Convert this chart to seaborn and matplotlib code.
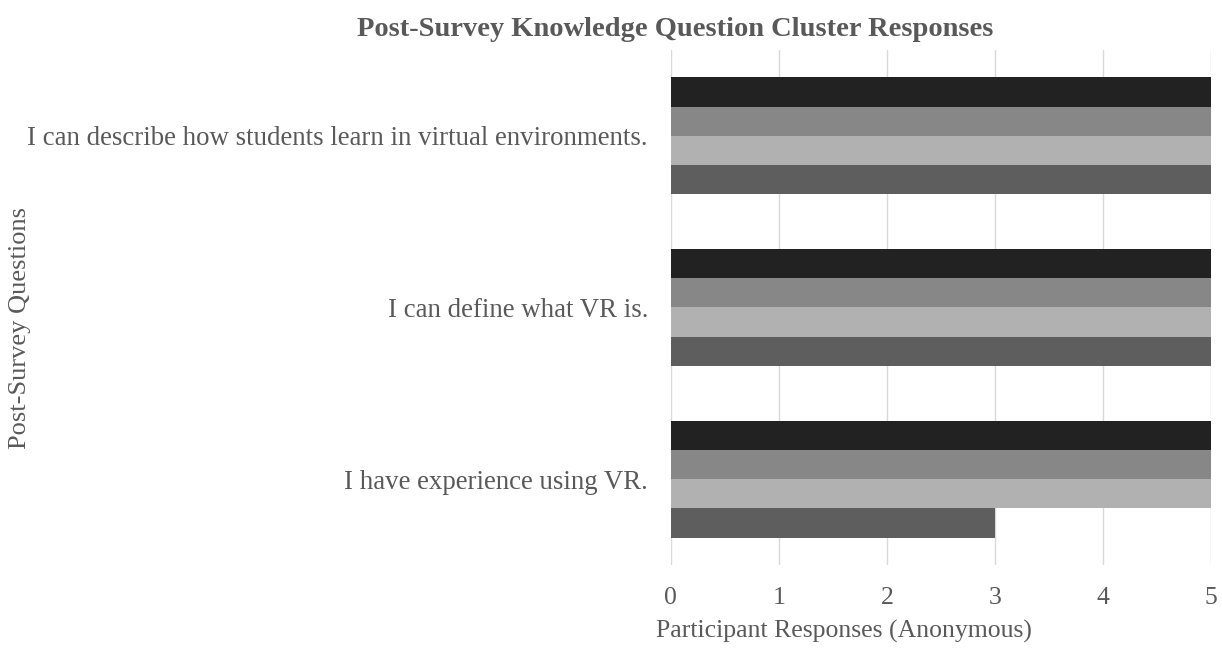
import matplotlib
matplotlib.use("Agg")
import matplotlib.pyplot as plt
import seaborn as sns
import pandas as pd

questions = [
    "I can describe how students learn in virtual environments.",
    "I can define what VR is.",
    "I have experience using VR.",
]
participants = ["Participant 1", "Participant 2", "Participant 3", "Participant 4"]
responses = {
    "Participant 1": [5, 5, 5],
    "Participant 2": [5, 5, 5],
    "Participant 3": [5, 5, 5],
    "Participant 4": [5, 5, 3],
}
bar_colors = ["#222222", "#878787", "#b1b1b1", "#5e5e5e"]

rows = []
for p in participants:
    for q, v in zip(questions, responses[p]):
        rows.append({"Question": q, "Participant": p, "Value": v})
df = pd.DataFrame(rows)

sns.set_theme(style="white")
plt.rcParams["font.family"] = ["Liberation Serif", "DejaVu Serif"]
text_color = "#595959"

fig = plt.figure(figsize=(12.22, 6.48), dpi=100)
ax = fig.add_axes([0.549, 0.128, 0.442, 0.795])

sns.barplot(
    data=df, x="Value", y="Question", hue="Participant",
    order=questions, hue_order=participants,
    palette=bar_colors, orient="h", width=0.68, gap=0,
    saturation=1, edgecolor="none", linewidth=0, legend=False, ax=ax,
)

ax.set_xlim(0, 5)
ax.set_ylim(2.5, -0.5)
ax.set_xticks(range(0, 6))
ax.xaxis.grid(True, color="#d9d9d9", linewidth=1)
ax.set_axisbelow(True)
for s in ax.spines.values():
    s.set_visible(False)
ax.tick_params(axis="x", length=0, pad=16, labelsize=18.5, labelcolor=text_color)
ax.tick_params(axis="y", length=0, pad=16.5, labelsize=19.4, labelcolor=text_color)

ax.set_ylabel("")
ax.set_xlabel("")
fig.text(0.691, 0.025, "Participant Responses (Anonymous)", fontsize=18.5,
         color=text_color, ha="center", va="center")
fig.text(0.016, 0.494, "Post-Survey Questions", rotation=90, fontsize=19,
         color=text_color, ha="center", va="center")
fig.text(0.5524, 0.955, "Post-Survey Knowledge Question Cluster Responses",
         fontsize=20.5, fontweight="bold", color=text_color, ha="center", va="center")

fig.savefig("out.png", dpi=100, facecolor="white")
